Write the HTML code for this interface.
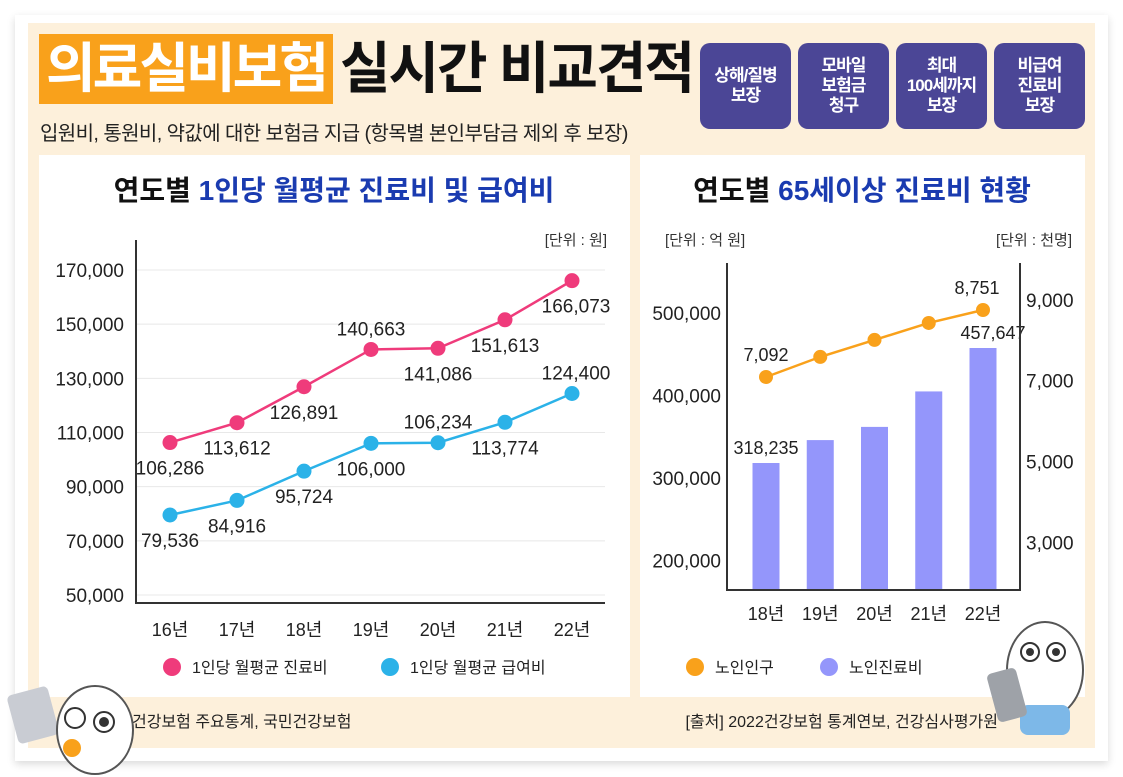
<!DOCTYPE html>
<html><head><meta charset="utf-8">
<style>
*{margin:0;padding:0;box-sizing:border-box}
body{width:1123px;height:777px;background:#fff;font-family:"Liberation Sans","Noto Sans CJK KR",sans-serif;position:relative;overflow:hidden}
.abs{position:absolute}
.card{left:15px;top:15px;width:1093px;height:746px;background:#fff;box-shadow:0 3px 8px rgba(0,0,0,.15)}
.cream{left:28px;top:23px;width:1067px;height:725px;background:#fdf0db}
.btn{top:43px;width:91px;height:86px;background:#4b4696;border-radius:10px;color:#fff;font-weight:bold;font-size:17px;line-height:20px;text-align:center;display:flex;align-items:center;justify-content:center;letter-spacing:-1px}
.panel{top:155px;height:542px;background:#fff}
</style></head><body>
<div class="abs card"></div>
<div class="abs cream"></div>
<div class="abs" style="left:39px;top:34px;width:294px;height:70px;background:#f9a11b;color:#fff;font-weight:bold;font-size:54px;line-height:70px;text-align:center;letter-spacing:-3px">의료실비보험</div>
<div class="abs" style="left:340px;top:34px;height:70px;font-weight:bold;font-size:56px;line-height:70px;letter-spacing:-2px;color:#111;transform:scaleX(0.98);transform-origin:left">실시간 비교견적</div>
<div class="abs" style="left:40px;top:117px;font-size:20px;color:#222;letter-spacing:-0.6px">입원비, 통원비, 약값에 대한 보험금 지급 (항목별 본인부담금 제외 후 보장)</div>
<div class="abs btn" style="left:700px">상해/질병<br>보장</div>
<div class="abs btn" style="left:798px">모바일<br>보험금<br>청구</div>
<div class="abs btn" style="left:896px">최대<br>100세까지<br>보장</div>
<div class="abs btn" style="left:994px">비급여<br>진료비<br>보장</div>
<div class="abs panel" style="left:39px;width:591px"></div>
<div class="abs panel" style="left:640px;width:445px"></div>
<svg class="abs" style="left:0;top:0" width="1123" height="777" id="svg">
<text x="334" y="200" text-anchor="middle" font-size="28" font-weight="bold" fill="#111">연도별 <tspan fill="#1a3bb0">1인당 월평균 진료비 및 급여비</tspan></text>
<text x="862" y="200" text-anchor="middle" font-size="28" font-weight="bold" fill="#111">연도별 <tspan fill="#1a3bb0">65세이상 진료비 현황</tspan></text>
<text x="607" y="245" text-anchor="end" font-size="15" fill="#333">[단위 : 원]</text>
<text x="665" y="245" font-size="15" fill="#333">[단위 : 억 원]</text>
<text x="1072" y="245" text-anchor="end" font-size="15" fill="#333">[단위 : 천명]</text>
<g id="left"></g><g id="right"></g>
<circle cx="172" cy="667" r="9" fill="#ef3b7b"/>
<text x="192" y="673" font-size="16" fill="#222">1인당 월평균 진료비</text>
<circle cx="390" cy="667" r="9" fill="#2bb2e8"/>
<text x="410" y="673" font-size="16" fill="#222">1인당 월평균 급여비</text>
<circle cx="695" cy="667" r="9" fill="#f9a11b"/>
<text x="715" y="673" font-size="16" fill="#222">노인인구</text>
<circle cx="829" cy="667" r="9" fill="#9496fb"/>
<text x="849" y="673" font-size="16" fill="#222">노인진료비</text>
<text x="132" y="727" font-size="16" fill="#222">건강보험 주요통계, 국민건강보험</text>
<text x="998" y="727" text-anchor="end" font-size="16" fill="#222">[출처] 2022건강보험 통계연보, 건강심사평가원</text>
<g>
<rect x="12" y="690" width="42" height="50" rx="5" fill="#c9ccd3" transform="rotate(-15 33 715)"/>
<ellipse cx="95" cy="730" rx="38" ry="44" fill="#fff" stroke="#555" stroke-width="2"/>
<circle cx="75" cy="718" r="10" fill="#fff" stroke="#333" stroke-width="2"/>
<circle cx="104" cy="722" r="10" fill="#fff" stroke="#333" stroke-width="2"/>
<circle cx="104" cy="722" r="5" fill="#333"/>
<circle cx="72" cy="748" r="9" fill="#f9a11b"/>
</g>
<g>
<ellipse cx="1045" cy="670" rx="38" ry="48" fill="#fff" stroke="#555" stroke-width="2"/>
<circle cx="1030" cy="652" r="9" fill="#fff" stroke="#333" stroke-width="2"/><circle cx="1030" cy="652" r="4" fill="#333"/>
<circle cx="1056" cy="652" r="9" fill="#fff" stroke="#333" stroke-width="2"/><circle cx="1056" cy="652" r="4" fill="#333"/>
<rect x="1020" y="705" width="50" height="30" rx="8" fill="#7db8e8"/>
<rect x="992" y="670" width="30" height="50" rx="5" fill="#9ea2a8" transform="rotate(-15 1007 695)"/>
</g>
</svg>
<script>
const leftYears=["16년","17년","18년","19년","20년","21년","22년"];
const costValues=[106286,113612,126891,140663,141086,151613,166073];
const benefitValues=[79536,84916,95724,106000,106234,113774,124400];
const leftTicks=[50000,70000,90000,110000,130000,150000,170000];
const rightYears=["18년","19년","20년","21년","22년"];
const elderlyCost=[318235,346000,362000,405000,457647];
const elderlyPop=[7092,7590,8010,8430,8751];
const rightLeftTicks=[200000,300000,400000,500000];
const rightRightTicks=[3000,5000,7000,9000];
const ns="http://www.w3.org/2000/svg";
function mk(p,tag,a){const e=document.createElementNS(ns,tag);for(const k in a)e.setAttribute(k,a[k]);p.appendChild(e);return e;}
function fmt(v){return v.toLocaleString("en-US");}
const L=document.getElementById("left");
const lx=i=>170+i*67;
const ly=v=>595-(v-50000)*325/120000;
leftTicks.forEach(t=>{
 const g=mk(L,"line",{x1:136,x2:605,y1:ly(t),y2:ly(t),stroke:"#e8e8e8"});
 
 
 const tx=mk(L,"text",{x:124,y:ly(t)+7,"text-anchor":"end","font-size":19,fill:"#222"});tx.textContent=fmt(t);
 
 
});
let ax=mk(L,"path",{d:"M136 240 V603 H605",stroke:"#333","stroke-width":2,fill:"none"});


leftYears.forEach((y,i)=>{const t=mk(L,"text",{x:lx(i),y:636,"text-anchor":"middle","font-size":18,fill:"#222"});t.textContent=y;
 
 });
function series(vals,color,name,above){
 const pl=mk(L,"polyline",{points:vals.map((v,i)=>lx(i)+","+ly(v)).join(" "),fill:"none",stroke:color,"stroke-width":2.5});
 
 
 vals.forEach((v,i)=>{const c=mk(L,"circle",{cx:lx(i),cy:ly(v),r:7.5,fill:color});
  
  
  const up=above[i];
  const t=mk(L,"text",{x:lx(i)+(i==6?4:0),y:ly(v)+(up?-14:32),"text-anchor":"middle","font-size":19,fill:"#222"});t.textContent=fmt(v);
  
  });
}
series(costValues,"#ef3b7b","cost",[false,false,false,true,false,false,false]);
series(benefitValues,"#2bb2e8","benefit",[false,false,false,false,true,false,true]);
const R=document.getElementById("right");
const rx=i=>766+i*54.25;
const ryb=v=>463-(v-318235)*115/139412;
const ryl=v=>377-(v-7092)*67/1659;
rightLeftTicks.forEach(t=>{const tx=mk(R,"text",{x:721,y:ryb(t)+7,"text-anchor":"end","font-size":19,fill:"#222"});tx.textContent=fmt(t);
 
 });
rightRightTicks.forEach(t=>{const tx=mk(R,"text",{x:1026,y:ryl(t)+7,"font-size":19,fill:"#222"});tx.textContent=fmt(t);
 
 });
elderlyCost.forEach((v,i)=>{const b=mk(R,"rect",{x:rx(i)-13.5,y:ryb(v),width:27,height:590-ryb(v),fill:"#9496fb"});
 
 
 if(i==0||i==4){const t=mk(R,"text",{x:rx(i)+(i==4?10:0),y:ryb(v)-9,"text-anchor":"middle","font-size":18,fill:"#222"});t.textContent=fmt(v);
 
 }});
ax=mk(R,"path",{d:"M727 263 V590 H1020 V263",stroke:"#333","stroke-width":2,fill:"none"});


const pl=mk(R,"polyline",{points:elderlyPop.map((v,i)=>rx(i)+","+ryl(v)).join(" "),fill:"none",stroke:"#f9a11b","stroke-width":2.5});


elderlyPop.forEach((v,i)=>{const c=mk(R,"circle",{cx:rx(i),cy:ryl(v),r:7,fill:"#f9a11b"});
 
 
 if(i==0||i==4){const t=mk(R,"text",{x:rx(i)+(i==4?-6:0),y:ryl(v)-16,"text-anchor":"middle","font-size":18,fill:"#222"});t.textContent=fmt(v);
 
 }});
rightYears.forEach((y,i)=>{const t=mk(R,"text",{x:rx(i),y:620,"text-anchor":"middle","font-size":18,fill:"#222"});t.textContent=y;
 
 });
</script>
</body></html>
